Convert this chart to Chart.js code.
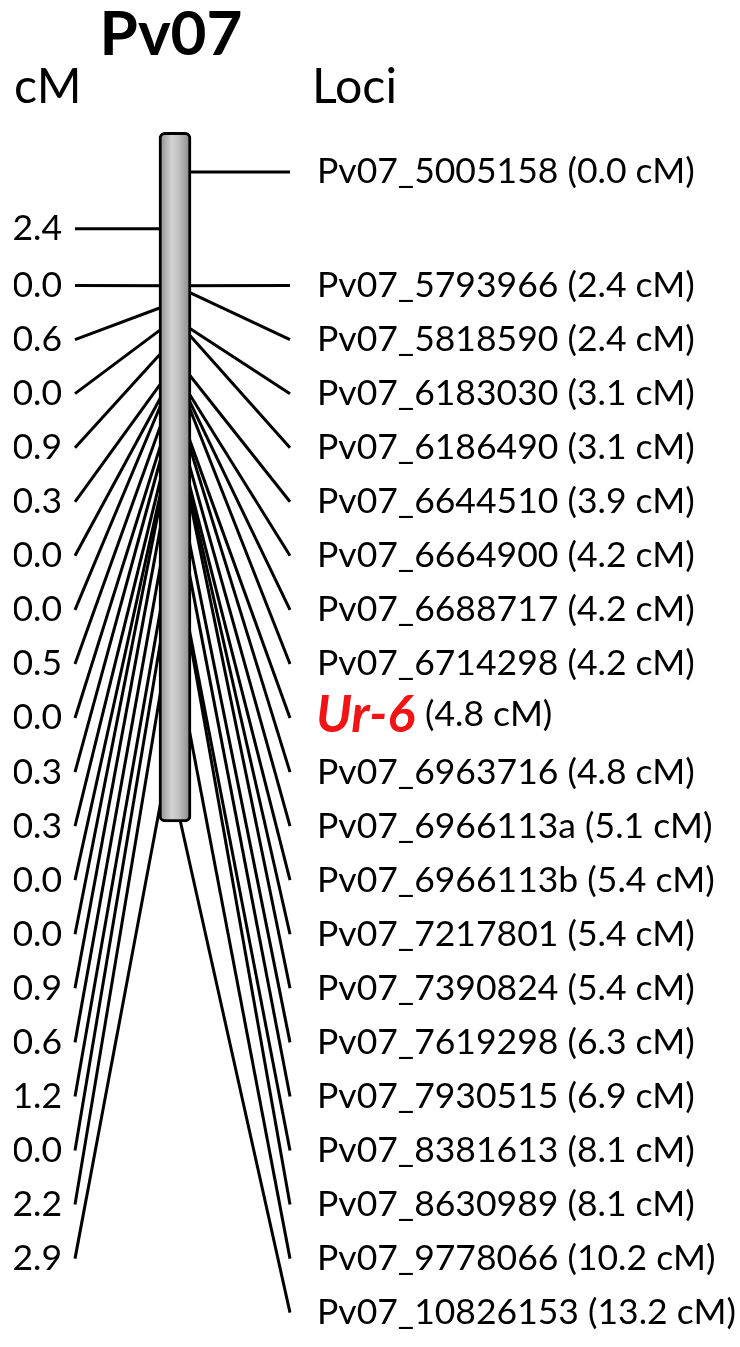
<!DOCTYPE html>
<html>
<head>
<meta charset="utf-8">
<script src="https://cdn.jsdelivr.net/npm/chart.js@4.4.0/dist/chart.umd.min.js"></script>
<style>
  html, body { margin: 0; padding: 0; background: #fff; }
</style>
</head>
<body>
<canvas id="myChart" width="740" height="1347"></canvas>
<script>
// Linkage group Pv07: loci and their map positions (cM)
const lociNames = ['Pv07_5005158', 'Pv07_5793966', 'Pv07_5818590', 'Pv07_6183030', 'Pv07_6186490',
    'Pv07_6644510', 'Pv07_6664900', 'Pv07_6688717', 'Pv07_6714298', 'Ur-6', 'Pv07_6963716',
    'Pv07_6966113a', 'Pv07_6966113b', 'Pv07_7217801', 'Pv07_7390824', 'Pv07_7619298',
    'Pv07_7930515', 'Pv07_8381613', 'Pv07_8630989', 'Pv07_9778066', 'Pv07_10826153'];
const lociCM = [0.0, 2.4, 2.4, 3.1, 3.1, 3.9, 4.2, 4.2, 4.2, 4.8, 4.8, 5.1, 5.4, 5.4, 5.4, 6.3, 6.9, 8.1, 8.1, 10.2, 13.2];
// distances between neighbouring loci, shown on the left
const intervalLabels = ['2.4', '0.0', '0.6', '0.0', '0.9', '0.3', '0.0', '0.0', '0.5', '0.0',
    '0.3', '0.3', '0.0', '0.0', '0.9', '0.6', '1.2', '0.0', '2.2', '2.9'];
const geneName = 'Ur-6';
const chromName = 'Pv07';

// layout
const FONT = 'Lato, "Open Sans", sans-serif';
const LEFT_END = 75, BAR_X = 175, BAR_W = 32, RIGHT_END = 290, TEXT_X = 317;
const FIRST_GAP = 2.1; // first locus sits a bit further up

const locusSlot = (k) => (k === 0 ? 1 - FIRST_GAP : k);
const intervalSlot = (i) => (i === 0 ? (locusSlot(0) + locusSlot(1)) / 2 : i);

function fitSize(text, weight, width) {
    const c = document.createElement('canvas').getContext('2d');
    c.font = weight + ' 100px ' + FONT;
    return 100 * width / c.measureText(text).width;
}
const labelSize = fitSize('Pv07_5005158 (0.0 cM)', 'normal', 378);
const headSize = fitSize('Loci', 'normal', 85);
const titleSize = fitSize(chromName, 'bold', 143);
const geneSize = fitSize(geneName, 'italic bold', 99);

// connector lines between labels and the chromosome
const connectors = {
    id: 'connectors',
    beforeDatasetsDraw(chart) {
        const { ctx, scales: { x, row, cm } } = chart;
        ctx.save();
        ctx.strokeStyle = '#000';
        ctx.lineWidth = 3;
        lociCM.forEach((v, k) => {
            ctx.beginPath();
            ctx.moveTo(x.getPixelForValue(BAR_X), cm.getPixelForValue(v));
            ctx.lineTo(x.getPixelForValue(RIGHT_END), row.getPixelForValue(locusSlot(k)));
            ctx.stroke();
        });
        intervalLabels.forEach((_, i) => {
            const mid = (lociCM[i] + lociCM[i + 1]) / 2;
            ctx.beginPath();
            ctx.moveTo(x.getPixelForValue(LEFT_END), row.getPixelForValue(intervalSlot(i)));
            ctx.lineTo(x.getPixelForValue(BAR_X), cm.getPixelForValue(mid));
            ctx.stroke();
        });
        ctx.restore();
    }
};

// headings and locus names
const labels = {
    id: 'labels',
    afterDraw(chart) {
        const { ctx, scales: { row } } = chart;
        ctx.save();
        ctx.fillStyle = '#000';
        ctx.textBaseline = 'alphabetic';
        ctx.textAlign = 'center';
        ctx.font = 'bold ' + titleSize + 'px ' + FONT;
        ctx.fillText(chromName, 171, 55);
        ctx.textAlign = 'left';
        ctx.font = headSize + 'px ' + FONT;
        ctx.fillText('cM', 14, 103);
        ctx.fillText('Loci', 312, 103);

        ctx.textBaseline = 'middle';
        lociNames.forEach((name, k) => {
            const y = row.getPixelForValue(locusSlot(k));
            const tail = '(' + lociCM[k].toFixed(1) + ' cM)';
            if (name === geneName) {
                ctx.font = 'italic bold ' + geneSize + 'px ' + FONT;
                ctx.fillStyle = '#f01414';
                ctx.fillText(name, TEXT_X - 1, y - 3);
                const w = ctx.measureText(name).width;
                ctx.font = labelSize + 'px ' + FONT;
                ctx.fillStyle = '#000';
                ctx.fillText(tail, TEXT_X - 1 + w + 10, y - 3);
            } else {
                ctx.font = labelSize + 'px ' + FONT;
                ctx.fillStyle = '#000';
                ctx.fillText(name + ' ' + tail, TEXT_X, y);
            }
        });
        ctx.restore();
    }
};

const ctx = document.getElementById('myChart').getContext('2d');
const chart = new Chart(ctx, {
    type: 'bar',
    data: {
        datasets: [{
            label: chromName,
            data: [{ x: BAR_X, y: [-0.84, 13.72] }],
            xAxisID: 'x',
            yAxisID: 'cm',
            barThickness: BAR_W,
            borderWidth: 3,
            borderColor: '#000',
            borderRadius: 6,
            borderSkipped: false,
            clip: false,
            backgroundColor: (c) => {
                const ch = c.chart;
                if (!ch.chartArea) return '#b5b5b5';
                const xs = ch.scales.x;
                const g = ch.ctx.createLinearGradient(xs.getPixelForValue(BAR_X - BAR_W / 2), 0,
                    xs.getPixelForValue(BAR_X + BAR_W / 2), 0);
                g.addColorStop(0, '#8c8c8c');
                g.addColorStop(0.4, '#d2d2d2');
                g.addColorStop(0.6, '#c2c2c2');
                g.addColorStop(1, '#868686');
                return g;
            }
        }]
    },
    options: {
        responsive: false,
        animation: false,
        layout: { padding: { left: 14, right: 0, top: 172, bottom: 19 } },
        plugins: {
            legend: { display: false },
            tooltip: { enabled: false }
        },
        scales: {
            x: { type: 'linear', display: false, offset: false, min: LEFT_END, max: 740 },
            row: {
                type: 'linear',
                axis: 'y',
                position: 'left',
                reverse: true,
                min: locusSlot(0),
                max: lociNames.length - 1,
                grid: { display: false, drawTicks: false },
                border: { display: false },
                afterBuildTicks: (s) => { s.ticks = intervalLabels.map((_, i) => ({ value: intervalSlot(i) })); },
                afterFit: (s) => { s.width = 61; },
                ticks: {
                    autoSkip: false,
                    padding: 13,
                    color: '#000',
                    font: { family: FONT, size: labelSize },
                    callback: (v, i) => intervalLabels[i]
                }
            },
            cm: { type: 'linear', axis: 'y', display: false, reverse: true, min: 0, max: 24.08 }
        }
    },
    plugins: [connectors, labels]
});
</script>
</body>
</html>
